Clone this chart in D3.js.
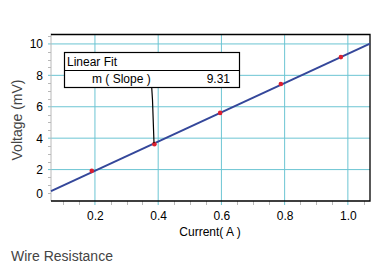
<!DOCTYPE html>
<html>
<head>
<meta charset="utf-8">
<script src="https://cdn.jsdelivr.net/npm/d3@7"></script>
<style>
  body { margin: 0; background: #fff; }
  svg text { font-family: "Liberation Sans", Arial, sans-serif; }
</style>
</head>
<body>
<svg id="chart" width="381" height="269"></svg>
<script>
// data
const current = [0.19, 0.388, 0.596, 0.788, 0.978];
const voltage = [1.92, 3.62, 5.61, 7.45, 9.16];
const fitSlope = 9.31;
const fitIntercept = 0.06;
const xTicks = [0.2, 0.4, 0.6, 0.8, 1.0];
const yTicks = [0, 2, 4, 6, 8, 10];

const svg = d3.select("#chart");
const pL = 51, pR = 370, pT = 34.5, pB = 201;

const x = d3.scaleLinear().domain([0.061, 1.07]).range([pL, pR]);
const y = d3.scaleLinear().domain([0, 10.6]).range([pB, pT]);

const grid = "#6cc5d3";
const gray = "#b8b8b8";

// grid lines
svg.append("g").selectAll("line").data(xTicks).join("line")
  .attr("x1", d => x(d)).attr("x2", d => x(d))
  .attr("y1", pT).attr("y2", pB + 4)
  .attr("stroke", grid).attr("stroke-width", 1);
svg.append("g").selectAll("line").data(yTicks.filter(d => d > 0)).join("line")
  .attr("x1", pL - 3).attr("x2", pR)
  .attr("y1", d => y(d)).attr("y2", d => y(d))
  .attr("stroke", grid).attr("stroke-width", 1);

// minor ticks
const xMinor = d3.range(0.1, 1.07, 0.05).filter(v => Math.abs(v * 5 - Math.round(v * 5)) > 0.01);
svg.append("g").selectAll("line").data(xMinor).join("line")
  .attr("x1", d => Math.round(x(d)) + 0.5).attr("x2", d => Math.round(x(d)) + 0.5)
  .attr("y1", pB).attr("y2", pB + 4)
  .attr("stroke", gray);
const yMinor = d3.range(0.5, 10.6, 0.5).filter(v => v % 2 !== 0);
svg.append("g").selectAll("line").data(yMinor).join("line")
  .attr("x1", pL - 3).attr("x2", pL)
  .attr("y1", d => Math.round(y(d)) + 0.5).attr("y2", d => Math.round(y(d)) + 0.5)
  .attr("stroke", gray);

// frame
svg.append("line").attr("x1", pL).attr("x2", pL).attr("y1", pT - 1).attr("y2", pB)
  .attr("stroke", gray);
svg.append("path")
  .attr("d", `M${pL},${pT}H${pR}V${pB}H${pL}`)
  .attr("fill", "none").attr("stroke", "#000").attr("stroke-width", 1.3);

// tick labels
const yAxis = svg.append("g")
  .attr("transform", `translate(${pL},0)`)
  .call(d3.axisLeft(y).tickValues(yTicks).tickFormat(d3.format("d")).tickSize(0).tickPadding(8));
yAxis.select(".domain").remove();
yAxis.selectAll("text").attr("font-size", "12px").attr("fill", "#000")
  .attr("dy", d => d === 0 ? "-0.3em" : "0.32em");

const xAxis = svg.append("g")
  .attr("transform", `translate(0,${pB})`)
  .call(d3.axisBottom(x).tickValues(xTicks).tickFormat(d3.format(".1f")).tickSize(0).tickPadding(10));
xAxis.select(".domain").remove();
xAxis.selectAll("text").attr("font-size", "12px").attr("fill", "#000");

// fit line
const fit = x.domain().map(v => [v, fitSlope * v + fitIntercept]);
svg.append("path")
  .attr("d", d3.line().x(d => x(d[0])).y(d => y(d[1]))(fit))
  .attr("fill", "none").attr("stroke", "#34479a").attr("stroke-width", 2);

// points
svg.append("g").selectAll("circle").data(current).join("circle")
  .attr("cx", d => x(d)).attr("cy", (d, i) => y(voltage[i]))
  .attr("r", 2.3).attr("fill", "#dd2030");

// leader line to the fit
svg.append("path")
  .attr("d", `M151.7,87.3L152.5,100L154,${y(voltage[1]) - 1}`)
  .attr("fill", "none").attr("stroke", "#000").attr("stroke-width", 1.2);

// legend box
const box = svg.append("g");
box.append("rect").attr("x", 64.5).attr("y", 52.5).attr("width", 175).attr("height", 35)
  .attr("fill", "#fff").attr("stroke", "#000").attr("stroke-width", 1.2);
box.append("line").attr("x1", 64.5).attr("x2", 239.5).attr("y1", 70.5).attr("y2", 70.5)
  .attr("stroke", "#000").attr("stroke-width", 1.2);
box.append("text").attr("x", 67).attr("y", 66).attr("font-size", "12px").text("Linear Fit");
box.append("text").attr("x", 92).attr("y", 83).attr("font-size", "12px").text("m ( Slope )");
box.append("text").attr("x", 230).attr("y", 83).attr("text-anchor", "end")
  .attr("font-size", "12px").text(fitSlope.toFixed(2));

// titles
svg.append("text")
  .attr("transform", "rotate(-90)")
  .attr("x", -120).attr("y", 22)
  .attr("text-anchor", "middle").attr("font-size", "14px").attr("fill", "#444")
  .text("Voltage (mV)");
svg.append("text")
  .attr("x", 210).attr("y", 236)
  .attr("text-anchor", "middle").attr("font-size", "12px").attr("fill", "#000")
  .text("Current( A )");
svg.append("text")
  .attr("x", 11).attr("y", 261)
  .attr("font-size", "14px").attr("fill", "#444")
  .text("Wire Resistance");
</script>
</body>
</html>
